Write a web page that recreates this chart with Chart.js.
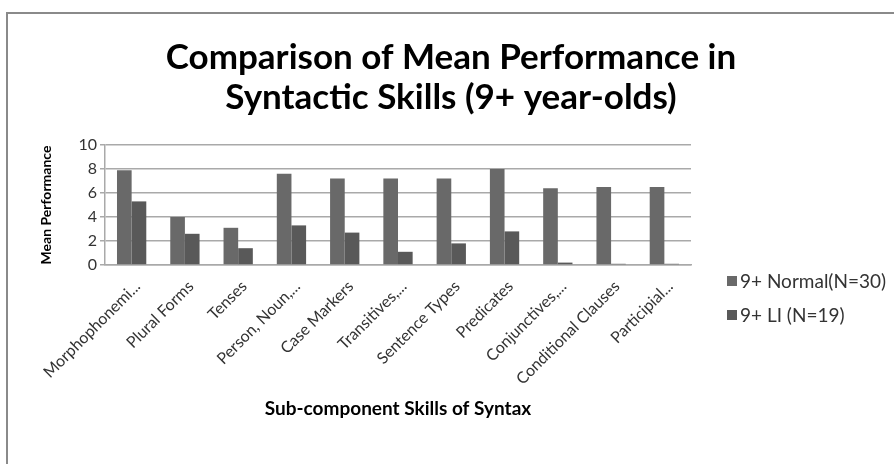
<!DOCTYPE html>
<html>
<head>
<meta charset="utf-8">
<script src="https://cdn.jsdelivr.net/npm/chart.js@4.4.1/dist/chart.umd.min.js"></script>
<style>
  html, body { margin: 0; padding: 0; background: #fff; }
  #wrap { width: 894px; height: 464px; }
</style>
</head>
<body>
<div id="wrap"><canvas id="chart" width="894" height="464"></canvas></div>
<script>
// skills on the x axis (truncated as in the original chart)
const skills = [
  'Morphophonemi...', 'Plural Forms', 'Tenses', 'Person, Noun,...', 'Case Markers',
  'Transitives,...', 'Sentence Types', 'Predicates', 'Conjunctives,...',
  'Conditional Clauses', 'Participial...'
];
const normalMeans = [7.9, 4.0, 3.1, 7.6, 7.2, 7.2, 7.2, 8.0, 6.4, 6.5, 6.5];
const liMeans     = [5.3, 2.6, 1.4, 3.3, 2.7, 1.1, 1.8, 2.8, 0.2, 0.1, 0.1];
const seriesNames = ['9+ Normal(N=30)', '9+ LI (N=19)'];
const yMin = 0, yMax = 10, yStep = 2;

const FONT = 'Lato, "Open Sans", sans-serif';
const GRID = '#a9a9a9';
const TEXT = '#333333';

// white background + the grey frame line (top and left edges)
const frame = {
  id: 'frame',
  beforeDraw(chart) {
    const ctx = chart.ctx;
    ctx.save();
    ctx.fillStyle = '#fff';
    ctx.fillRect(0, 0, chart.width, chart.height);
    ctx.strokeStyle = '#8a8a8a';
    ctx.lineWidth = 2;
    ctx.beginPath();
    ctx.moveTo(7, chart.height);
    ctx.lineTo(7, 13);
    ctx.lineTo(chart.width, 13);
    ctx.stroke();
    ctx.restore();
  }
};

// legend on the right, drawn from the datasets
const sideLegend = {
  id: 'sideLegend',
  afterDraw(chart) {
    const ctx = chart.ctx;
    const x0 = chart.chartArea.right + 36;
    ctx.save();
    ctx.font = Chart.helpers.toFont({ family: FONT, size: 19 }).string;
    ctx.textBaseline = 'middle';
    chart.data.datasets.forEach((ds, i) => {
      const y = 281 + i * 34;
      ctx.fillStyle = ds.backgroundColor;
      ctx.fillRect(x0, y - 5, 10, 10);
      ctx.fillStyle = TEXT;
      ctx.fillText(ds.label, x0 + 13, y + 1);
    });
    ctx.restore();
  }
};

new Chart(document.getElementById('chart'), {
  type: 'bar',
  data: {
    labels: skills,
    datasets: [
      { label: seriesNames[0], data: normalMeans, backgroundColor: '#696969', categoryPercentage: 0.55, barPercentage: 1 },
      { label: seriesNames[1], data: liMeans, backgroundColor: '#595959', categoryPercentage: 0.55, barPercentage: 1 },
    ],
  },
  options: {
    responsive: false,
    animation: false,
    layout: { padding: { left: 8, top: 14, right: 0, bottom: 44 } },
    plugins: {
      legend: { display: false },
      tooltip: { enabled: false },
      title: {
        display: true,
        text: ['Comparison of Mean Performance in', 'Syntactic Skills (9+ year-olds)'],
        color: '#000',
        font: { family: FONT, size: 35, weight: 'bold', lineHeight: 40 / 35 },
        padding: { top: 24, bottom: 27 },
      },
    },
    scales: {
      x: {
        grid: { display: false, drawTicks: false },
        border: { display: true, color: GRID, width: 1.5 },
        ticks: {
          autoSkip: false, minRotation: 45, maxRotation: 45, padding: 12, labelOffset: 6,
          color: TEXT, font: { family: FONT, size: 16 },
        },
        title: {
          display: true, text: 'Sub-component Skills of Syntax', color: '#000',
          font: { family: FONT, size: 19, weight: 'bold' }, padding: 0,
        },
        afterFit: s => { s.height = 155; },
      },
      y: {
        min: yMin, max: yMax,
        grid: { color: GRID, lineWidth: 1.5, tickLength: 5 },
        border: { display: true, color: GRID, width: 1.5 },
        ticks: { stepSize: yStep, padding: 3, color: TEXT, font: { family: FONT, size: 16 } },
        title: {
          display: true, text: 'Mean Performance', color: '#000',
          font: { family: FONT, size: 14, weight: 'bold' }, padding: { top: 30, bottom: 0 },
        },
        afterFit: s => { s.width = 97; },
      },
      // empty axis that only keeps room for the legend on the right
      room: {
        position: 'right', display: true,
        grid: { display: false }, border: { display: false }, ticks: { display: false },
        afterFit: s => { s.width = 203; },
      },
    },
  },
  plugins: [frame, sideLegend],
});
</script>
</body>
</html>
